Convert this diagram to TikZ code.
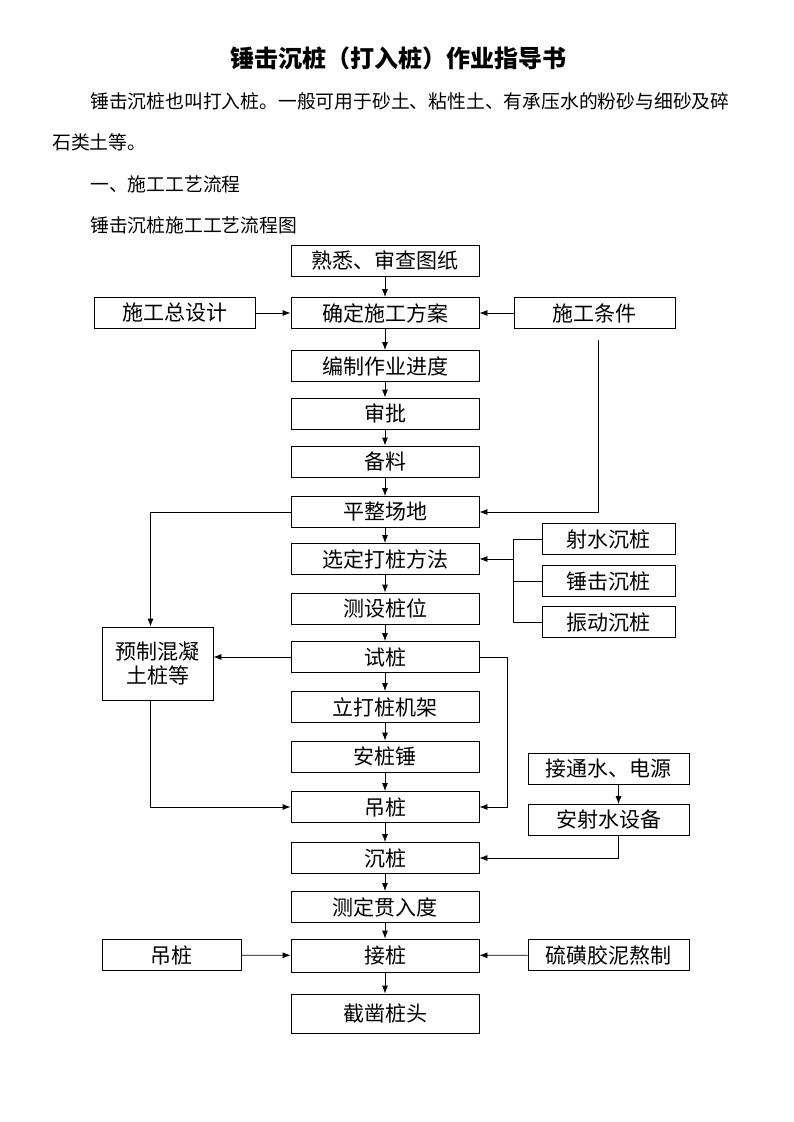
\documentclass[tikz,border=0pt]{standalone}
\usepackage{fontspec}
\newfontfamily\cjk{Noto Sans CJK SC}
\usetikzlibrary{arrows.meta}
\begin{document}
\begin{tikzpicture}[x=1pt,y=-1pt,
  box/.style={draw,line width=0.8pt,minimum width=188pt,minimum height=31pt,inner sep=0pt,
    font=\cjk\fontsize{21}{24}\selectfont},
  arr/.style={-{Latex[length=8pt,width=6pt]},line width=0.8pt},
  txt/.style={anchor=west,inner sep=0pt,font=\cjk\fontsize{18.8}{20}\selectfont}]
\useasboundingbox (0,0) rectangle (793,1122);
% heading and text
\node[font=\cjk\bfseries\fontsize{24}{26}\selectfont] (title) at (398,58) {锤击沉桩（打入桩）作业指导书};
\node[txt] (p1) at (90,101) {锤击沉桩也叫打入桩。一般可用于砂土、粘性土、有承压水的粉砂与细砂及碎};
\node[txt] (p2) at (52,142) {石类土等。};
\node[txt] (h1) at (90,184) {一、施工工艺流程};
\node[txt] (cap) at (90,225) {锤击沉桩施工工艺流程图};
% main column
\node[box] (drawings) at (385,260.5) {熟悉、审查图纸};
\node[box] (scheme) at (385,313) {确定施工方案};
\node[box] (sched) at (385,366) {编制作业进度};
\node[box] (approve) at (385,413.5) {审批};
\node[box] (prep) at (385,461.5) {备料};
\node[box] (site) at (385,512) {平整场地};
\node[box] (method) at (385,559) {选定打桩方法};
\node[box] (locate) at (385,608.5) {测设桩位};
\node[box] (trial) at (385,657) {试桩};
\node[box] (rig) at (385,707) {立打桩机架};
\node[box] (hammer) at (385,756.5) {安桩锤};
\node[box] (lift) at (385,807) {吊桩};
\node[box] (sink) at (385,858) {沉桩};
\node[box] (measure) at (385,907) {测定贯入度};
\node[box,minimum height=33pt] (join) at (385,955.5) {接桩};
\node[box,minimum height=39pt] (cut) at (385,1013.5) {截凿桩头};
% side boxes
\node[box,minimum width=161pt] (design) at (174.5,313) {施工总设计};
\node[box,minimum width=161pt] (cond) at (594.5,313) {施工条件};
\node[box,minimum width=133pt] (jet) at (608.5,539) {射水沉桩};
\node[box,minimum width=133pt] (hammersink) at (608.5,581) {锤击沉桩};
\node[box,minimum width=133pt] (vibro) at (608.5,622) {振动沉桩};
\node[box,minimum width=111pt,minimum height=73pt,align=center] (precast) at (157.5,663.5) {预制混凝\\土桩等};
\node[box,minimum width=161pt] (water) at (608.5,768.5) {接通水、电源};
\node[box,minimum width=161pt] (jetdev) at (608.5,820) {安射水设备};
\node[box,minimum width=139pt] (liftside) at (171.5,955) {吊桩};
\node[box,minimum width=161pt] (sulfur) at (608.5,955) {硫磺胶泥熬制};
% connectors
\foreach \a/\b in {drawings/scheme,scheme/sched,sched/approve,approve/prep,prep/site,site/method,
  method/locate,locate/trial,trial/rig,rig/hammer,hammer/lift,lift/sink,sink/measure,measure/join,join/cut}
  \draw[arr] (\a) -- (\b);
\draw[arr] (design) -- (scheme);
\draw[arr] (cond) -- (scheme);
\coordinate (conddrop) at (598,340);
\draw[arr] (conddrop) |- (site);
\draw (jet.west) -- ++(-28,0) |- (vibro.west);
\draw (hammersink.west) -- ++(-28,0);
\coordinate (bracket) at (514,559);
\draw[arr] (bracket) -- (method);
\draw[arr] (site.west) -| ([xshift=-7pt]precast.north);
\draw[arr] (trial.west) -- (trial.west -| precast.east);
\draw[arr] ([xshift=-7pt]precast.south) |- (lift);
\draw[arr] (trial.east) -- ++(28,0) |- (lift);
\draw[arr] ([xshift=10pt]water.south) -- ([xshift=10pt]jetdev.north);
\draw[arr] ([xshift=10pt]jetdev.south) |- (sink);
\draw[arr] (liftside) -- (join);
\draw[arr] (sulfur) -- (join);
\end{tikzpicture}
\end{document}
